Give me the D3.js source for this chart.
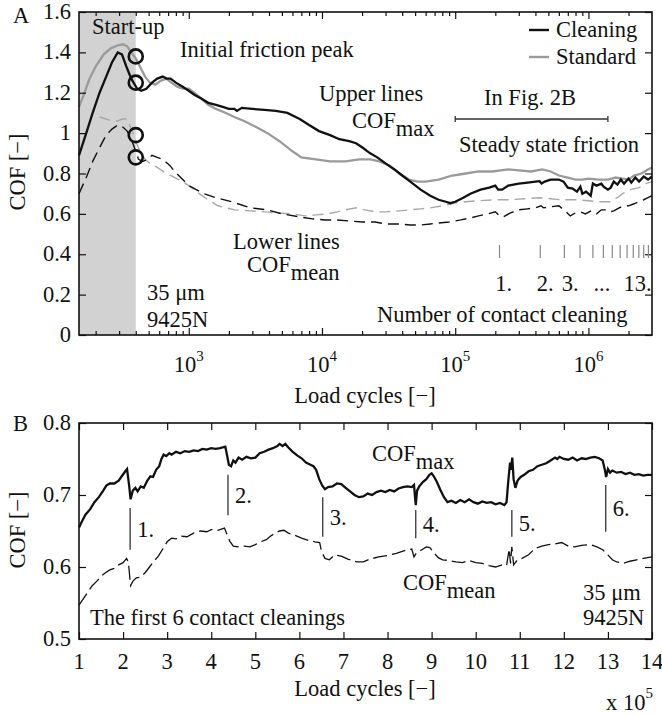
<!DOCTYPE html>
<html><head><meta charset="utf-8">
<script src="https://cdn.jsdelivr.net/npm/d3@7"></script>
<style>
body{margin:0;background:#fff}
svg{display:block}
text{font-family:"Liberation Serif","Times New Roman",serif;fill:#111;font-size:22.5px}
</style>
</head><body><svg id="c" width="662" height="716"></svg>
<script>
// ---------- Panel A data (load cycles, COF) ----------
const cleaningMax=[[150,0.89],[170,1.0],[190,1.1],[214,1.2],[240,1.28],[265,1.35],[293,1.40],[315,1.39],[340,1.33],[370,1.27],[410,1.22],[440,1.21],[480,1.22],[530,1.25],[580,1.27],[638,1.28],[680,1.27],[730,1.27],[800,1.25],[900,1.23],[1000,1.21],[1100,1.19],[1250,1.17],[1400,1.15],[1600,1.14],[1800,1.13],[2000,1.12],[2200,1.12],[2300,1.11],[2500,1.125],[3000,1.12],[3700,1.115],[4500,1.11],[5500,1.10],[6800,1.07],[8000,1.04],[9500,1.01],[11500,0.99],[13500,0.97],[16000,0.96],[18000,0.95],[20000,0.93],[23000,0.90],[26000,0.88],[30000,0.85],[35000,0.82],[40000,0.79],[46000,0.76],[55000,0.72],[65000,0.69],[75000,0.67],[85000,0.66],[92000,0.653],[100000,0.66],[115000,0.68],[130000,0.70],[155000,0.72],[180000,0.73],[200000,0.74],[210000,0.72],[225000,0.72],[250000,0.74],[300000,0.75],[350000,0.755],[400000,0.76],[430000,0.762],[445000,0.75],[470000,0.76],[520000,0.77],[600000,0.77],[650000,0.76],[700000,0.73],[760000,0.725],[820000,0.71],[870000,0.735],[900000,0.70],[960000,0.71],[1040000,0.69],[1080000,0.75],[1150000,0.74],[1250000,0.75],[1300000,0.735],[1400000,0.72],[1470000,0.73],[1550000,0.76],[1650000,0.745],[1750000,0.77],[1850000,0.75],[2000000,0.775],[2100000,0.755],[2250000,0.78],[2400000,0.76],[2600000,0.785],[2800000,0.77],[3000000,0.785]];
const standardMax=[[150,1.13],[165,1.2],[180,1.27],[200,1.33],[230,1.39],[260,1.42],[293,1.435],[320,1.44],[345,1.43],[370,1.40],[400,1.37],[430,1.33],[470,1.28],[510,1.25],[560,1.24],[620,1.26],[680,1.27],[740,1.25],[820,1.23],[900,1.22],[1000,1.22],[1100,1.20],[1250,1.17],[1400,1.14],[1600,1.12],[1900,1.10],[2200,1.08],[2600,1.06],[3200,1.03],[3900,1.00],[4800,0.96],[6000,0.91],[7000,0.88],[9000,0.87],[11500,0.86],[15000,0.86],[19000,0.87],[23000,0.87],[27000,0.86],[32000,0.84],[38000,0.80],[45000,0.77],[52000,0.76],[60000,0.76],[75000,0.77],[95000,0.79],[120000,0.80],[150000,0.81],[190000,0.81],[250000,0.82],[300000,0.815],[370000,0.81],[450000,0.82],[520000,0.81],[600000,0.79],[700000,0.78],[800000,0.77],[900000,0.77],[1000000,0.775],[1200000,0.77],[1400000,0.77],[1600000,0.78],[1800000,0.775],[2000000,0.77],[2200000,0.79],[2500000,0.80],[2800000,0.82],[3000000,0.83]];
const cleaningMean=[[150,0.70],[170,0.78],[190,0.86],[215,0.93],[240,0.99],[265,1.02],[293,1.04],[320,1.03],[345,1.01],[370,0.97],[395,0.92],[420,0.87],[450,0.86],[490,0.87],[530,0.89],[580,0.88],[640,0.87],[720,0.84],[785,0.81],[900,0.77],[1000,0.74],[1300,0.70],[1600,0.68],[2100,0.66],[2900,0.63],[3900,0.62],[5000,0.60],[6800,0.585],[8500,0.575],[10500,0.57],[13000,0.57],[16000,0.565],[20000,0.56],[25000,0.56],[30000,0.55],[38000,0.55],[46000,0.545],[55000,0.545],[65000,0.55],[75000,0.555],[90000,0.56],[110000,0.57],[130000,0.58],[150000,0.59],[175000,0.60],[200000,0.61],[215000,0.59],[230000,0.585],[260000,0.605],[300000,0.62],[350000,0.625],[400000,0.63],[440000,0.64],[460000,0.63],[520000,0.635],[600000,0.64],[680000,0.61],[730000,0.59],[800000,0.605],[870000,0.61],[950000,0.60],[1050000,0.615],[1150000,0.60],[1250000,0.62],[1350000,0.62],[1450000,0.61],[1550000,0.615],[1700000,0.63],[1850000,0.64],[2000000,0.64],[2200000,0.65],[2400000,0.66],[2600000,0.67],[2800000,0.68],[3000000,0.69]];
const standardMean=[[214,1.08],[240,1.07],[265,1.06],[290,1.06],[320,1.07],[345,1.07],[370,1.02],[400,0.96],[430,0.91],[470,0.87],[510,0.85],[580,0.83],[680,0.80],[785,0.78],[900,0.76],[1000,0.74],[1200,0.70],[1390,0.67],[1650,0.64],[2200,0.62],[2900,0.615],[3700,0.61],[4500,0.605],[6000,0.60],[7500,0.59],[9000,0.595],[11000,0.60],[13000,0.61],[15000,0.62],[18000,0.63],[21000,0.62],[25000,0.61],[30000,0.61],[38000,0.615],[46000,0.62],[55000,0.625],[65000,0.63],[80000,0.64],[100000,0.655],[120000,0.66],[150000,0.665],[200000,0.67],[250000,0.67],[330000,0.675],[430000,0.68],[520000,0.675],[620000,0.67],[800000,0.67],[1000000,0.665],[1200000,0.66],[1450000,0.66],[1650000,0.68],[1800000,0.70],[2070000,0.72],[2400000,0.73],[2700000,0.75],[3000000,0.76]];
const peakMarkers=[[400,1.38],[400,1.25],[400,0.99],[400,0.88]];
const cleaningCycles=[215000,435000,660000,865000,1080000,1295000,1510000,1730000,1950000,2170000,2390000,2600000,2820000];
const cleaningLabelsA=[["1.",200000],["2.",410000],["3.",630000],["...",1090000],["13.",1830000]];
const yTicksA=[0,0.2,0.4,0.6,0.8,1,1.2,1.4,1.6];
const xTicksA=[1e3,1e4,1e5,1e6];
const startUpEnd=400;
const fig2BRange=[1e5,1.4e6];

// ---------- Panel B data (load cycles x 10^5, COF) ----------
const firstMax=[[1.00,0.655],[1.08,0.665],[1.15,0.673],[1.25,0.68],[1.35,0.69],[1.45,0.697],[1.55,0.706],[1.62,0.713],[1.7,0.716],[1.8,0.716],[1.9,0.72],[1.97,0.726],[2.05,0.733],[2.09,0.736],[2.14,0.712],[2.17,0.694],[2.22,0.706],[2.28,0.71],[2.33,0.705],[2.4,0.712],[2.47,0.71],[2.55,0.72],[2.62,0.726],[2.68,0.725],[2.75,0.735],[2.82,0.74],[2.87,0.75],[2.92,0.756],[2.98,0.754],[3.05,0.758],[3.1,0.756],[3.2,0.76],[3.3,0.758],[3.4,0.761],[3.5,0.76],[3.6,0.762],[3.7,0.761],[3.8,0.764],[3.9,0.763],[4.0,0.765],[4.1,0.764],[4.2,0.765],[4.32,0.767],[4.36,0.755],[4.4,0.742],[4.45,0.74],[4.5,0.748],[4.55,0.745],[4.62,0.752],[4.7,0.749],[4.8,0.753],[4.9,0.751],[5.0,0.752],[5.1,0.758],[5.2,0.76],[5.3,0.763],[5.4,0.765],[5.5,0.768],[5.55,0.771],[5.62,0.768],[5.68,0.771],[5.75,0.766],[5.85,0.76],[5.95,0.755],[6.05,0.751],[6.15,0.745],[6.25,0.742],[6.32,0.74],[6.38,0.735],[6.45,0.722],[6.52,0.713],[6.58,0.708],[6.65,0.711],[6.75,0.712],[6.85,0.716],[6.95,0.715],[7.05,0.71],[7.15,0.705],[7.25,0.7],[7.35,0.697],[7.45,0.698],[7.55,0.702],[7.65,0.7],[7.75,0.704],[7.85,0.706],[7.95,0.704],[8.05,0.707],[8.15,0.705],[8.25,0.709],[8.35,0.711],[8.45,0.712],[8.55,0.711],[8.6,0.714],[8.64,0.686],[8.67,0.706],[8.72,0.712],[8.8,0.718],[8.88,0.722],[8.95,0.728],[9.0,0.73],[9.05,0.726],[9.12,0.718],[9.2,0.707],[9.28,0.697],[9.36,0.69],[9.45,0.692],[9.55,0.689],[9.65,0.693],[9.75,0.69],[9.85,0.694],[9.95,0.69],[10.05,0.688],[10.15,0.691],[10.25,0.689],[10.35,0.69],[10.45,0.687],[10.55,0.689],[10.65,0.686],[10.7,0.69],[10.74,0.72],[10.78,0.745],[10.8,0.735],[10.83,0.752],[10.86,0.722],[10.9,0.71],[10.95,0.72],[11.02,0.725],[11.1,0.728],[11.2,0.733],[11.3,0.735],[11.4,0.74],[11.5,0.742],[11.6,0.744],[11.7,0.748],[11.8,0.752],[11.85,0.75],[11.9,0.753],[12.0,0.75],[12.1,0.749],[12.2,0.752],[12.3,0.748],[12.4,0.751],[12.5,0.75],[12.6,0.752],[12.7,0.753],[12.8,0.751],[12.88,0.748],[12.93,0.735],[12.96,0.725],[13.0,0.736],[13.05,0.731],[13.1,0.734],[13.2,0.731],[13.3,0.732],[13.4,0.729],[13.5,0.731],[13.6,0.728],[13.7,0.729],[13.8,0.727],[13.9,0.728],[14.0,0.728]];
const firstMean=[[1.0,0.547],[1.1,0.556],[1.2,0.565],[1.3,0.574],[1.4,0.58],[1.5,0.587],[1.6,0.592],[1.7,0.596],[1.8,0.598],[1.9,0.603],[2.0,0.606],[2.08,0.612],[2.12,0.607],[2.17,0.574],[2.22,0.58],[2.3,0.585],[2.4,0.586],[2.5,0.592],[2.6,0.6],[2.7,0.608],[2.8,0.615],[2.9,0.625],[3.0,0.635],[3.1,0.64],[3.2,0.639],[3.3,0.643],[3.45,0.642],[3.6,0.647],[3.75,0.65],[3.9,0.649],[4.0,0.652],[4.15,0.651],[4.3,0.654],[4.36,0.645],[4.42,0.636],[4.5,0.629],[4.6,0.628],[4.75,0.629],[4.88,0.628],[5.0,0.631],[5.12,0.635],[5.25,0.638],[5.35,0.643],[5.45,0.647],[5.55,0.65],[5.65,0.651],[5.75,0.647],[5.9,0.644],[6.05,0.64],[6.2,0.637],[6.35,0.635],[6.46,0.634],[6.5,0.622],[6.58,0.612],[6.68,0.61],[6.8,0.617],[6.95,0.615],[7.1,0.611],[7.3,0.607],[7.45,0.607],[7.6,0.611],[7.8,0.614],[8.0,0.616],[8.2,0.619],[8.4,0.623],[8.55,0.625],[8.6,0.614],[8.66,0.62],[8.75,0.623],[8.88,0.628],[8.96,0.627],[9.05,0.62],[9.15,0.613],[9.25,0.61],[9.4,0.609],[9.55,0.607],[9.7,0.606],[9.85,0.609],[10.0,0.606],[10.15,0.605],[10.3,0.602],[10.45,0.6],[10.6,0.603],[10.7,0.602],[10.76,0.625],[10.79,0.605],[10.82,0.628],[10.86,0.603],[10.95,0.61],[11.05,0.612],[11.2,0.617],[11.35,0.626],[11.5,0.629],[11.65,0.631],[11.8,0.632],[11.95,0.634],[12.1,0.629],[12.25,0.628],[12.4,0.63],[12.6,0.631],[12.75,0.628],[12.88,0.624],[12.98,0.618],[13.1,0.61],[13.2,0.607],[13.35,0.605],[13.5,0.608],[13.65,0.61],[13.8,0.612],[14.0,0.614]];
// cleaning markers: [label, x, yLow, yHigh]
const cleaningsB=[["1.",2.16,0.624,0.682],["2.",4.38,0.672,0.728],["3.",6.53,0.642,0.697],["4.",8.64,0.640,0.679],["5.",10.82,0.642,0.679],["6.",12.95,0.649,0.714]];
const xTicksB=[1,2,3,4,5,6,7,8,9,10,11,12,13,14];
const yTicksB=[0.5,0.6,0.7,0.8];

const svg=d3.select("#c");
const black="#111", grey="#9a9a9a";

// ===== Panel A =====
const xA=d3.scaleLog().domain([150,3e6]).range([79,652]);
const yA=d3.scaleLinear().domain([0,1.6]).range([335,12]);
const gA=svg.append("g");
gA.append("rect").attr("x",xA(150)).attr("y",yA(1.6)).attr("width",xA(startUpEnd)-xA(150)).attr("height",yA(0)-yA(1.6)).attr("fill","#d2d2d2");

const lineA=d3.line().x(d=>xA(d[0])).y(d=>yA(d[1]));
gA.append("path").datum(standardMean).attr("d",lineA).attr("fill","none").attr("stroke","#a8a8a8").attr("stroke-width",1.4).attr("stroke-dasharray","11,6");
gA.append("path").datum(cleaningMean).attr("d",lineA).attr("fill","none").attr("stroke",black).attr("stroke-width",1.4).attr("stroke-dasharray","11,6");
gA.append("path").datum(standardMax).attr("d",lineA).attr("fill","none").attr("stroke",grey).attr("stroke-width",2.3);
gA.append("path").datum(cleaningMax).attr("d",lineA).attr("fill","none").attr("stroke",black).attr("stroke-width",2.3);
gA.selectAll("circle.pk").data(peakMarkers).join("circle").attr("cx",d=>xA(d[0])).attr("cy",d=>yA(d[1])).attr("r",7).attr("fill","none").attr("stroke",black).attr("stroke-width",2.6);

// axes A
function inward(g){g.select(".domain").remove();g.selectAll(".tick line").attr("stroke",black).attr("stroke-width",1.2);}
const minorA=[];
[100,1000,10000,100000,1000000].forEach(b=>{for(let k=2;k<=9;k++){const v=b*k;if(v>150&&v<3e6)minorA.push(v);}});
gA.append("g").attr("transform",`translate(0,${yA(0)})`).call(d3.axisBottom(xA).tickValues(minorA).tickSize(-4).tickFormat("")).call(inward);
gA.append("g").attr("transform",`translate(0,${yA(1.6)})`).call(d3.axisTop(xA).tickValues(minorA).tickSize(-4).tickFormat("")).call(inward);
gA.append("g").attr("transform",`translate(0,${yA(0)})`).call(d3.axisBottom(xA).tickValues(xTicksA).tickSize(-7).tickFormat("")).call(inward);
gA.append("g").attr("transform",`translate(0,${yA(1.6)})`).call(d3.axisTop(xA).tickValues(xTicksA).tickSize(-7).tickFormat("")).call(inward);
gA.append("g").attr("transform",`translate(${xA.range()[0]},0)`).call(d3.axisLeft(yA).tickValues(yTicksA).tickSize(-7).tickFormat("")).call(inward);
gA.append("g").attr("transform",`translate(${xA.range()[1]},0)`).call(d3.axisRight(yA).tickValues(yTicksA).tickSize(-7).tickFormat("")).call(inward);
gA.selectAll("text.yl").data(yTicksA).join("text").attr("x",71).attr("y",d=>yA(d)+7).attr("text-anchor","end").text(d=>d3.format("")(+d.toFixed(1)));
const xl=gA.selectAll("text.xl").data(xTicksA).join("text").attr("x",d=>xA(d)).attr("y",372).attr("text-anchor","middle");
xl.append("tspan").text("10");
xl.append("tspan").attr("dy",-11).attr("font-size",15).text(d=>Math.round(Math.log10(d)));
gA.append("rect").attr("x",79).attr("y",yA(1.6)).attr("width",xA.range()[1]-79).attr("height",yA(0)-yA(1.6)).attr("fill","none").attr("stroke",black).attr("stroke-width",1.6);

// cleaning markers A
gA.selectAll("line.cl").data(cleaningCycles).join("line").attr("x1",d=>xA(d)).attr("x2",d=>xA(d)).attr("y1",245).attr("y2",258).attr("stroke","#888").attr("stroke-width",1.2);
gA.selectAll("text.cll").data(cleaningLabelsA).join("text").attr("x",d=>xA(d[1])).attr("y",291).attr("text-anchor","start").text(d=>d[0]);

// fig 2B bar
const yBar=119;
gA.append("line").attr("x1",xA(fig2BRange[0])).attr("x2",xA(fig2BRange[1])).attr("y1",yBar).attr("y2",yBar).attr("stroke","#333").attr("stroke-width",1.3);
fig2BRange.forEach(v=>gA.append("line").attr("x1",xA(v)).attr("x2",xA(v)).attr("y1",yBar-3).attr("y2",yBar+3).attr("stroke","#333").attr("stroke-width",1.3));

// legend
gA.append("line").attr("x1",529).attr("x2",549).attr("y1",30).attr("y2",30).attr("stroke",black).attr("stroke-width",2.4);
gA.append("line").attr("x1",529).attr("x2",549).attr("y1",57).attr("y2",57).attr("stroke",grey).attr("stroke-width",2.4);
gA.append("text").attr("x",556).attr("y",37).text("Cleaning");
gA.append("text").attr("x",556).attr("y",64).text("Standard");

// annotations A
function txt(x,y,s,anchor){return svg.append("text").attr("x",x).attr("y",y).attr("text-anchor",anchor||"start").text(s);}
function sub(x,y,main,s){const t=svg.append("text").attr("x",x).attr("y",y);t.append("tspan").text(main);t.append("tspan").attr("dy",8).text(s);return t;}
txt(13,23,"A");
txt(92,34,"Start-up");
txt(180,57,"Initial friction peak");
txt(319,101,"Upper lines");
sub(352,128,"COF","max");
txt(484,105,"In Fig. 2B");
txt(459,152,"Steady state friction");
txt(233,249,"Lower lines");
sub(247,272,"COF","mean");
txt(147,300,"35 μm");
txt(147,327,"9425N");
txt(377,322,"Number of contact cleaning");
svg.append("text").attr("transform","translate(25,172) rotate(-90)").attr("text-anchor","middle").text("COF [−]");
txt(365,403,"Load cycles [−]","middle");

// ===== Panel B =====
const xB=d3.scaleLinear().domain([1,14]).range([79,652]);
const yB=d3.scaleLinear().domain([0.5,0.8]).range([639,423]);
const gB=svg.append("g");
const lineB=d3.line().x(d=>xB(d[0])).y(d=>yB(d[1]));
gB.append("path").datum(firstMean).attr("d",lineB).attr("fill","none").attr("stroke",black).attr("stroke-width",1.3).attr("stroke-dasharray","14,5");
gB.append("path").datum(firstMax).attr("d",lineB).attr("fill","none").attr("stroke",black).attr("stroke-width",2.3);
gB.selectAll("line.cb").data(cleaningsB).join("line").attr("x1",d=>xB(d[1])).attr("x2",d=>xB(d[1])).attr("y1",d=>yB(d[2])).attr("y2",d=>yB(d[3])).attr("stroke","#333").attr("stroke-width",1.3);
gB.selectAll("text.cbl").data(cleaningsB).join("text").attr("x",d=>xB(d[1])+7).attr("y",d=>(yB(d[2])+yB(d[3]))/2+8).text(d=>d[0]);

gB.append("g").attr("transform",`translate(0,${yB(0.5)})`).call(d3.axisBottom(xB).tickValues(xTicksB).tickSize(-7).tickFormat("")).call(inward);
gB.append("g").attr("transform",`translate(0,${yB(0.8)})`).call(d3.axisTop(xB).tickValues(xTicksB).tickSize(-7).tickFormat("")).call(inward);
gB.append("g").attr("transform",`translate(79,0)`).call(d3.axisLeft(yB).tickValues(yTicksB).tickSize(-7).tickFormat("")).call(inward);
gB.append("g").attr("transform",`translate(652,0)`).call(d3.axisRight(yB).tickValues(yTicksB).tickSize(-7).tickFormat("")).call(inward);
gB.selectAll("text.ylb").data(yTicksB).join("text").attr("x",71).attr("y",d=>yB(d)+7).attr("text-anchor","end").text(d=>d.toFixed(1));
gB.selectAll("text.xlb").data(xTicksB).join("text").attr("x",d=>xB(d)).attr("y",669).attr("text-anchor","middle").text(d=>d);
gB.append("rect").attr("x",79).attr("y",423).attr("width",652-79).attr("height",639-423).attr("fill","none").attr("stroke",black).attr("stroke-width",1.6);

txt(13,431,"B");
sub(372,461,"COF","max");
sub(403,590,"COF","mean");
txt(583,600,"35 μm");
txt(583,625,"9425N");
txt(90,625,"The first 6 contact cleanings");
svg.append("text").attr("transform","translate(25,530) rotate(-90)").attr("text-anchor","middle").text("COF [−]");
txt(365,696,"Load cycles [−]","middle");
const x5=svg.append("text").attr("x",606).attr("y",710);
x5.append("tspan").text("x 10");
x5.append("tspan").attr("dy",-12).attr("font-size",15).text("5");
</script>
</body></html>
